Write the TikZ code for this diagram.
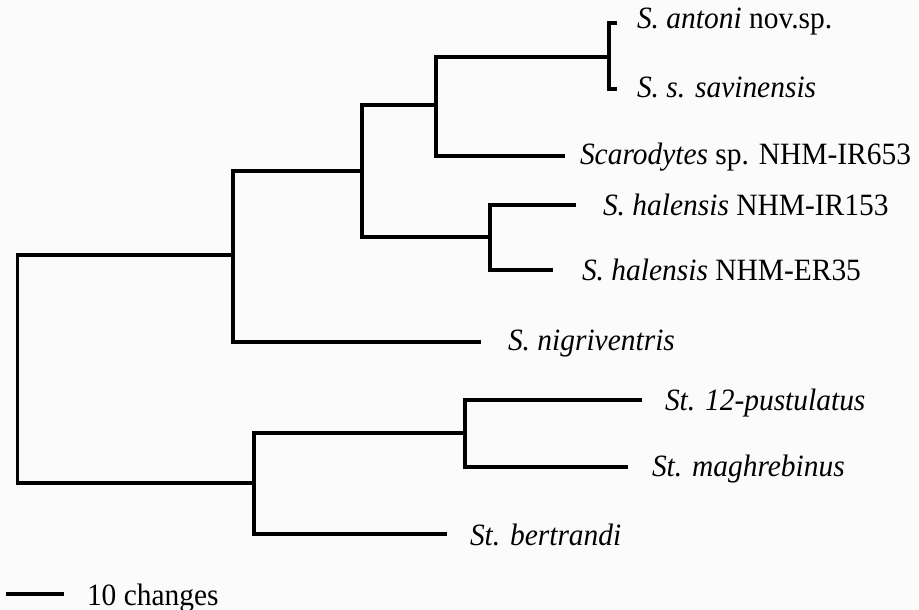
\documentclass[tikz,border=0pt]{standalone}
\usepackage{fontspec}
\setmainfont[FakeStretch=0.95]{Liberation Serif}
\definecolor{bgcol}{RGB}{251,251,251}
\begin{document}
\begin{tikzpicture}[x=1pt,y=-1pt,
  br/.style={line width=3.2pt, line cap=butt, line join=miter, draw=black},
  lab/.style={anchor=base west, inner sep=0pt, outer sep=0pt, font=\fontsize{31}{36}\selectfont}]
\fill[bgcol] (0,0) rectangle (919,610);
\useasboundingbox (0,0) rectangle (919,610);
% internal nodes (x of node, y of stem)
\coordinate (R) at (17.5,369);
\coordinate (A) at (233,255);
\coordinate (B) at (362,171);
\coordinate (C) at (436,105);
\coordinate (D) at (609,57);
\coordinate (E) at (490,237);
\coordinate (F) at (254,483);
\coordinate (G) at (465,433);
% tips
\coordinate (antT) at (617,23);
\coordinate (savT) at (617,89);
\coordinate (scaT) at (565,156);
\coordinate (irT) at (576,205);
\coordinate (erT) at (553,270);
\coordinate (nigT) at (481,342);
\coordinate (pusT) at (642,400);
\coordinate (magT) at (628,467);
\coordinate (berT) at (447,534);
\coordinate (sb1) at (6,594);
\coordinate (sb2) at (64,594);
% branches
\draw[br] (antT) -| (D) |- (savT);
\draw[br] (D) -| (C) |- (scaT);
\draw[br] (irT) -| (E) |- (erT);
\draw[br] (C) -| (B) |- (E);
\draw[br] (B) -| (A) |- (nigT);
\draw[br] (pusT) -| (G) |- (magT);
\draw[br] (G) -| (F) |- (berT);
\draw[br] (A) -| (R) |- (F);
\draw[br] (sb1) -- (sb2);
% labels
\node[lab] (lant) at (637,29) {\textit{S. antoni} nov.sp.};
\node[lab] (lsav) at (637,98) {\textit{S. s. savinensis}};
\node[lab] (lsca) at (580,164) {\textit{Scarodytes} sp. NHM-IR653};
\node[lab] (lir) at (603,215) {\textit{S. halensis} NHM-IR153};
\node[lab] (ler) at (582,280) {\textit{S. halensis} NHM-ER35};
\node[lab] (lnig) at (508,350) {\textit{S. nigriventris}};
\node[lab] (lpus) at (665,410) {\textit{St. 12-pustulatus}};
\node[lab] (lmag) at (652,476) {\textit{St. maghrebinus}};
\node[lab] (lber) at (470,545) {\textit{St. bertrandi}};
\node[lab] (lsb) at (87,605) {10 changes};
\end{tikzpicture}
\end{document}
